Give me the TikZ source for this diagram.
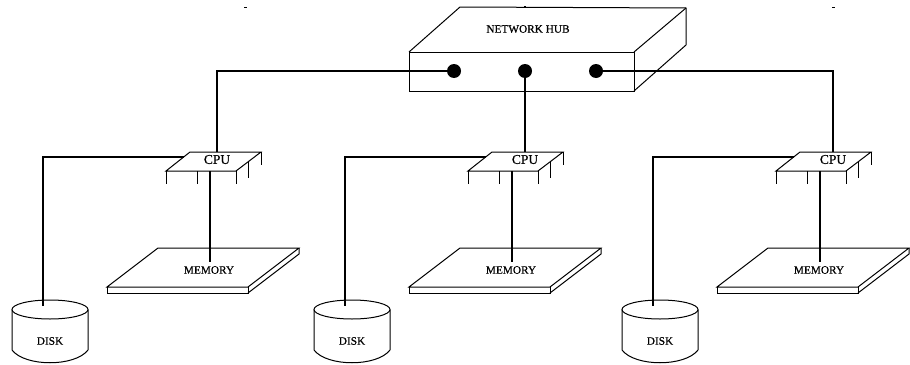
\documentclass[tikz,border=0pt]{standalone}
\usepackage{fontspec}
\setmainfont[FakeBold=0.6]{Liberation Serif}
\tikzset{
  thinline/.style={line width=1pt,black,line join=miter},
  wire/.style={line width=2.6pt,black},
  portdot/.style={circle,fill=black,draw=none,minimum size=14pt,inner sep=0pt},
  lab/.style={inner sep=0pt,font=\fontsize{11.3}{12}\selectfont,text=black},
  cpulab/.style={inner sep=0pt,font=\fontsize{13.5}{14}\selectfont,text=black},
  speck/.style={line width=1pt,black}
}
\begin{document}
\begin{tikzpicture}[x=1pt,y=-1pt]
\useasboundingbox (0,0) rectangle (910,364);
\fill[white] (0,0) rectangle (910,364);
% specks along the top
\draw[speck] (244,7) -- (247,7);
\draw[speck] (524,6) -- (526,6);
\draw[speck] (832,7) -- (835,7);
% hub
\draw[thinline] (409,52) -- (460,7) -- (686,8) -- (686,45) -- (634,91);
\draw[thinline] (634,52) -- (686,8);
\draw[thinline] (409,52) rectangle (634,91);
\node[lab] (hublabel) at (528,29) {NETWORK HUB};
\node[portdot] (p1) at (454,71) {};
\node[portdot] (p2) at (525,71) {};
\node[portdot] (p3) at (596,71) {};
% three groups: index / shift / cpu-wire x
\foreach \i/\s/\w in {1/0/217,2/302/525,3/610/833}{
  \begin{scope}[xshift=\s pt]
    % memory
    \draw[thinline] (107,287) -- (158,248) -- (299,248) -- (248,287) -- cycle;
    \draw[thinline] (107,287) -- (107,293) -- (248,293) -- (248,287);
    \draw[thinline] (299,248) -- (299,254) -- (248,293);
    \node[lab] (mem\i) at (209,270) {MEMORY};
    \coordinate (memtop\i) at (210,262);
    % cpu
    \draw[thinline] (166,171) -- (190,152) -- (261,152) -- (236,171) -- cycle;
    \draw[thinline] (166,171) -- (166,184);
    \draw[thinline] (197,171) -- (197,184);
    \draw[thinline] (236,171) -- (236,184);
    \draw[thinline] (261,152) -- (261,165);
    \draw[thinline] (248,162) -- (248,178);
    \coordinate (cpub\i) at (210,171);
    \coordinate (cpul\i) at (184,157);
    % disk
    \draw[thinline] (12,309.5) -- (12,350) .. controls (25,367) and (75,367) .. (88,350) -- (88,309.5);
    \draw[thinline] (50,309.5) ellipse [x radius=38, y radius=9.5];
    \node[lab] (disk\i) at (50,341) {DISK};
    \coordinate (disktop\i) at (43,306);
  \end{scope}
  \coordinate (cput\i) at (\w,152);
  \node[cpulab] (cpu\i) at (\w,159.5) {CPU};
  \draw[wire] (cpub\i) -- (memtop\i);
  \draw[wire] (cpul\i) -| (disktop\i);
}
% hub to CPUs
\draw[wire] (p1.center) -| (cput1);
\draw[wire] (p2.center) -- (cput2);
\draw[wire] (p3.center) -| (cput3);
\end{tikzpicture}
\end{document}
